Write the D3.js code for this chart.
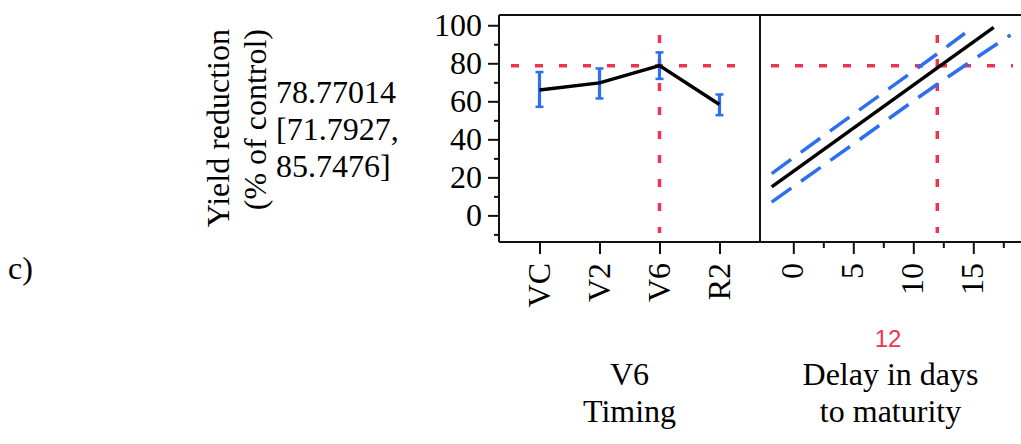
<!DOCTYPE html>
<html>
  <head>
    <meta charset="utf-8">
    <title>Yield reduction profiler</title>
    <script src="https://d3js.org/d3.v7.min.js"></script>
    <style>
      body { margin: 0; background: #fff; }
      text { font-family: "Liberation Serif", "Times New Roman", serif; }
    </style>
  </head>
  <body>
    <div id="chart"></div>
    <script>
      // timing panel
      const timing = ["VC", "V2", "V6", "R2"];
      const yieldMean = [65.9, 69.7, 78.77, 58.3];
      const yieldLow = [57.1, 61.5, 71.79, 52.7];
      const yieldHigh = [75.4, 77.3, 85.75, 63.6];

      // delay panel: fitted line and confidence band
      const fitDays = [-1.8, 16.7];
      const fitYield = [15.0, 98.9];
      const upperDays = [-1.8, 5, 12, 14.3];
      const upperYield = [22.0, 53.2, 85.0, 95.8];
      const lowerDays = [-1.8, 5, 12, 18.1];
      const lowerYield = [7.0, 37.5, 69.0, 94.9];

      const yTicks = [0, 20, 40, 60, 80, 100];
      const yMinor = [-10, 10, 30, 50, 70, 90];
      const dayTicks = [0, 5, 10, 15];
      const dayMinor = [2.5, 7.5, 12.5, 17.5];

      const current = { timing: "V6", delay: 12, value: 78.77014, low: 71.7927, high: 85.7476 };

      const red = "#ec3550";
      const blue = "#2c6ff0";

      const svg = d3.select("#chart")
        .append("svg")
        .attr("width", 1021)
        .attr("height", 444);

      const yScale = d3.scaleLinear().domain([-14, 105.4]).range([242, 15]);
      const xTiming = d3.scalePoint().domain(timing).range([499, 760]).padding(0.675);
      const xDelay = d3.scaleLinear().domain([-2.775, 18.975]).range([760, 1021]);

      // frame
      const frame = svg.append("g").attr("stroke", "#111").attr("stroke-width", 2);
      frame.append("line").attr("x1", 499).attr("x2", 1021).attr("y1", 15).attr("y2", 15);
      frame.append("line").attr("x1", 499).attr("x2", 1021).attr("y1", 242).attr("y2", 242);
      frame.append("line").attr("x1", 499).attr("x2", 499).attr("y1", 15).attr("y2", 242);
      frame.append("line").attr("x1", 760).attr("x2", 760).attr("y1", 15).attr("y2", 242);

      // y axis
      svg.append("g").attr("transform", "translate(499,0)")
        .call(d3.axisLeft(yScale).tickValues(yTicks).tickSize(11).tickPadding(6));
      svg.append("g").attr("transform", "translate(499,0)")
        .call(d3.axisLeft(yScale).tickValues(yMinor).tickSize(5).tickFormat(""));

      // x axes
      const xAxis1 = svg.append("g").attr("transform", "translate(0,242)")
        .call(d3.axisBottom(xTiming).tickSize(12));
      const xAxis2 = svg.append("g").attr("transform", "translate(0,242)")
        .call(d3.axisBottom(xDelay).tickValues(dayTicks).tickSize(12));
      svg.append("g").attr("transform", "translate(0,242)")
        .call(d3.axisBottom(xDelay).tickValues(dayMinor).tickSize(6).tickFormat(""));

      svg.selectAll(".domain").remove();
      svg.selectAll(".tick line").attr("stroke", "#111").attr("stroke-width", 2);
      svg.selectAll(".tick text")
        .attr("font-size", 32)
        .attr("fill", "#000");

      [xAxis1, xAxis2].forEach(ax => {
        ax.selectAll(".tick text")
          .attr("transform", "rotate(-90)")
          .attr("text-anchor", "end")
          .attr("x", -21)
          .attr("y", 0)
          .attr("dy", "0.3em");
      });

      // red crosshairs
      const cross = svg.append("g")
        .attr("stroke", red)
        .attr("stroke-width", 3.5)
        .attr("stroke-dasharray", "8,16");
      cross.append("line")
        .attr("x1", 511).attr("x2", 735)
        .attr("y1", yScale(current.value)).attr("y2", yScale(current.value));
      cross.append("line")
        .attr("x1", 771).attr("x2", 1013)
        .attr("y1", yScale(current.value)).attr("y2", yScale(current.value));
      cross.append("line")
        .attr("x1", xTiming(current.timing)).attr("x2", xTiming(current.timing))
        .attr("y1", 35).attr("y2", 233);
      cross.append("line")
        .attr("x1", xDelay(current.delay)).attr("x2", xDelay(current.delay))
        .attr("y1", 35).attr("y2", 233);

      // error bars
      const bars = svg.append("g").attr("stroke", blue).attr("stroke-width", 3.2);
      timing.forEach((t, i) => {
        const x = xTiming(t);
        bars.append("line").attr("x1", x).attr("x2", x)
          .attr("y1", yScale(yieldLow[i])).attr("y2", yScale(yieldHigh[i]));
        bars.append("line").attr("x1", x - 4).attr("x2", x + 4)
          .attr("y1", yScale(yieldLow[i])).attr("y2", yScale(yieldLow[i]))
          .attr("stroke-width", 2.5);
        bars.append("line").attr("x1", x - 4).attr("x2", x + 4)
          .attr("y1", yScale(yieldHigh[i])).attr("y2", yScale(yieldHigh[i]))
          .attr("stroke-width", 2.5);
      });

      // mean profile
      svg.append("path")
        .datum(timing.map((t, i) => [xTiming(t), yScale(yieldMean[i])]))
        .attr("fill", "none")
        .attr("stroke", "#000")
        .attr("stroke-width", 3.5)
        .attr("d", d3.line());

      // confidence band for delay
      const bandLine = d3.line().curve(d3.curveMonotoneX);
      [[upperDays, upperYield], [lowerDays, lowerYield]].forEach(([xs, ys]) => {
        svg.append("path")
          .datum(xs.map((d, i) => [xDelay(d), yScale(ys[i])]))
          .attr("fill", "none")
          .attr("stroke", blue)
          .attr("stroke-width", 3.5)
          .attr("stroke-dasharray", "24,12")
          .attr("d", bandLine);
      });

      svg.append("path")
        .datum(fitDays.map((d, i) => [xDelay(d), yScale(fitYield[i])]))
        .attr("fill", "none")
        .attr("stroke", "#000")
        .attr("stroke-width", 3.5)
        .attr("d", d3.line());

      // y title
      const yTitle = svg.append("g").attr("font-size", 32);
      yTitle.append("text")
        .attr("transform", "translate(229,29) rotate(-90)")
        .attr("text-anchor", "end")
        .text("Yield reduction");
      yTitle.append("text")
        .attr("transform", "translate(266,29) rotate(-90)")
        .attr("text-anchor", "end")
        .text("(% of control)");

      // current value with interval
      const valLines = [
        current.value.toString(),
        "[" + current.low + ",",
        current.high + "]"
      ];
      svg.append("g").attr("font-size", 32)
        .selectAll("text")
        .data(valLines)
        .join("text")
        .attr("x", 276)
        .attr("y", (_, i) => 103 + i * 37)
        .text(d => d);

      svg.append("text")
        .attr("x", 8).attr("y", 279)
        .attr("font-size", 32)
        .text("c)");

      // x titles
      svg.append("text")
        .attr("x", 888).attr("y", 347)
        .attr("text-anchor", "middle")
        .style("font-family", "Liberation Sans, Arial, sans-serif")
        .attr("font-size", 24)
        .attr("fill", red)
        .text(current.delay);

      const titles = [
        { x: (499 + 760) / 2, lines: [current.timing, "Timing"] },
        { x: (760 + 1021) / 2, lines: ["Delay in days", "to maturity"] }
      ];
      titles.forEach(t => {
        svg.append("g").attr("font-size", 32)
          .selectAll("text")
          .data(t.lines)
          .join("text")
          .attr("x", t.x)
          .attr("y", (_, i) => 385 + i * 36.5)
          .attr("text-anchor", "middle")
          .text(d => d);
      });
    </script>
  </body>
</html>
